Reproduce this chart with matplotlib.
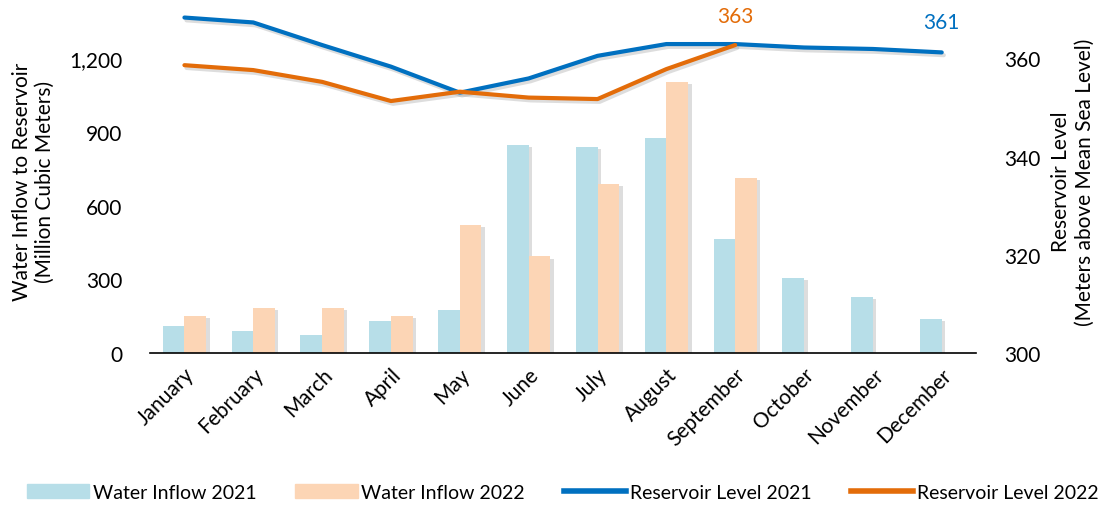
import numpy as np
import matplotlib
matplotlib.use('Agg')
import matplotlib.pyplot as plt
import matplotlib.patheffects as pe
from matplotlib.patches import Patch
from matplotlib.lines import Line2D

months = ['January', 'February', 'March', 'April', 'May', 'June', 'July',
          'August', 'September', 'October', 'November', 'December']
inflow_2021 = [109, 88, 75, 129, 175, 846, 838, 876, 465, 306, 229, 138]
inflow_2022 = [150, 182, 183, 152, 522, 393, 690, 1105, 712]
level_2021 = [368.3, 367.3, 362.7, 358.3, 353.0, 355.9, 360.5, 362.9, 362.9, 362.2, 361.9, 361.2]
level_2022 = [358.6, 357.6, 355.2, 351.3, 353.2, 352.0, 351.7, 357.8, 362.7]

c_bar21 = '#B7DEE8'
c_bar22 = '#FCD5B5'
c_line21 = '#0070C0'
c_line22 = '#E36C09'

plt.rcParams['font.family'] = ['Lato', 'DejaVu Sans']

fig = plt.figure(figsize=(11.03, 5.10), dpi=100)
ax = fig.add_axes([0.136, 0.306, 0.749, 0.674])
ax2 = ax.twinx()

shadow = [pe.SimplePatchShadow(offset=(2.5, -1.5), shadow_rgbFace='#909090', alpha=0.3), pe.Normal()]
lshadow = [pe.SimpleLineShadow(offset=(1.5, -2), shadow_color='#909090', alpha=0.3), pe.Normal()]

x = np.arange(len(months))
w = 0.315
ax.bar(x - w / 2, inflow_2021, width=w, color=c_bar21, zorder=2, path_effects=shadow)
ax.bar(x[:len(inflow_2022)] + w / 2, inflow_2022, width=w, color=c_bar22, zorder=2, path_effects=shadow)

ax2.plot(x, level_2021, color=c_line21, lw=3, solid_capstyle='round', solid_joinstyle='round',
         path_effects=lshadow)
ax2.plot(x[:len(level_2022)], level_2022, color=c_line22, lw=3, solid_capstyle='round',
         solid_joinstyle='round', path_effects=lshadow)
# end-point labels
ax2.annotate('361', (x[-1], level_2021[-1]), xytext=(0, 15), textcoords='offset points',
             color=c_line21, ha='center', va='bottom', fontsize=15, annotation_clip=False)
ax2.annotate('363', (x[len(level_2022) - 1], level_2022[-1]), xytext=(0, 14), textcoords='offset points',
             color=c_line22, ha='center', va='bottom', fontsize=15, annotation_clip=False)

ax.set_xlim(-0.5, len(months) - 0.5)
ax.set_ylim(0, 1400)
ax2.set_ylim(300, 370)
ax.set_yticks([0, 300, 600, 900, 1200])
ax.set_yticklabels(['0', '300', '600', '900', '1,200'])
ax2.set_yticks([300, 320, 340, 360])
ax.set_xticks(x)
ax.set_xticklabels(months, rotation=45, ha='right', rotation_mode='anchor')

for a in (ax, ax2):
    for s in ['top', 'left', 'right', 'bottom']:
        a.spines[s].set_visible(False)
    a.tick_params(length=0, labelsize=15)
ax.spines['bottom'].set_visible(True)
ax.spines['bottom'].set_linewidth(1.2)
ax.tick_params(axis='x', pad=8)
ax.tick_params(axis='y', pad=20)
ax2.tick_params(axis='y', pad=20)

ax.set_ylabel('Water Inflow to Reservoir\n(Million Cubic Meters)', fontsize=15, labelpad=10)
ax2.set_ylabel('Reservoir Level\n(Meters above Mean Sea Level)', fontsize=15, labelpad=8)

handles = [Patch(color=c_bar21), Patch(color=c_bar22),
           Line2D([], [], color=c_line21, lw=4), Line2D([], [], color=c_line22, lw=4)]
labels = ['Water Inflow 2021', 'Water Inflow 2022', 'Reservoir Level 2021', 'Reservoir Level 2022']
fig.legend(handles, labels, loc='center', bbox_to_anchor=(0.51, 0.033), ncol=4, frameon=False,
           prop={'size': 14}, handlelength=3.2, handletextpad=0.2, columnspacing=2.0)

fig.savefig('out.png', dpi=100)
